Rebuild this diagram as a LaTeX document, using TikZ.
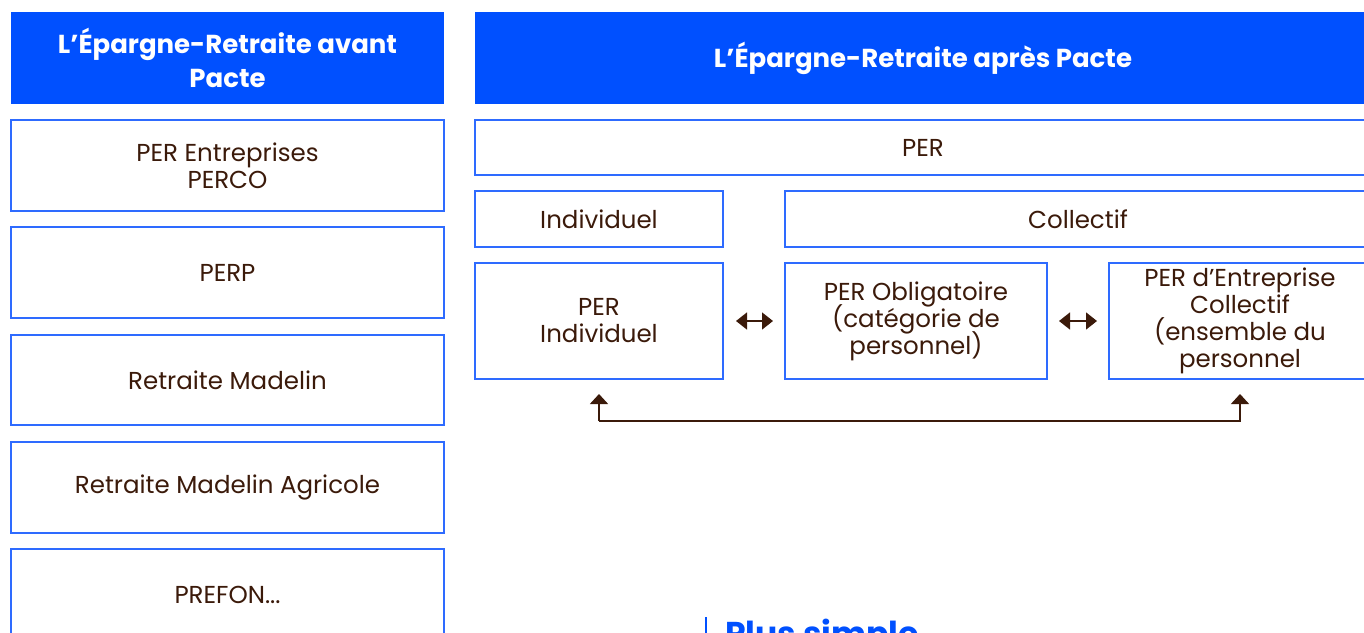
\documentclass[tikz,border=0pt]{standalone}
\usepackage{fontspec}
\setmainfont{Poppins}
\usetikzlibrary{arrows.meta,calc}
\definecolor{hblue}{HTML}{0050FF}
\definecolor{bblue}{HTML}{2E6BFF}
\definecolor{brown}{HTML}{3B1A0A}
\newcommand{\mytight}{\lineskiplimit=-20pt\relax}
\tikzset{
  hdr/.style={fill=hblue, draw=none, text=white, font={\bfseries\fontsize{26}{34}\selectfont\mytight}, align=center, inner sep=0pt, outer sep=0pt, anchor=north west},
  box/.style={draw=bblue, line width=1.3pt, fill=white, text=brown, font={\fontsize{24.5}{27}\selectfont\mytight}, align=center, inner sep=0pt, outer sep=0pt, anchor=north west},
  dbl/.style={{Triangle[length=11pt,width=17pt]}-{Triangle[length=11pt,width=17pt]}, line width=1.5pt, draw=brown},
  conn/.style={-{Triangle[length=10pt,width=18pt]}, line width=1.3pt, draw=brown},
}
\begin{document}
\begin{tikzpicture}[x=1pt,y=-1pt]
\useasboundingbox (0,0) rectangle (1364,632);
% left column
\node[hdr, minimum width=433pt, minimum height=92pt] (hl) at (11,12) {L’Épargne-Retraite avant\\Pacte};
\node[box, minimum width=433pt, minimum height=91pt] (b1) at (11,120) {PER Entreprises\\PERCO};
\node[box, minimum width=433pt, minimum height=91pt] (b2) at (11,227) {PERP};
\node[box, minimum width=433pt, minimum height=90pt] (b3) at (11,335) {Retraite Madelin};
\node[box, minimum width=433pt, minimum height=91pt] (b4) at (11,442) {Retraite Madelin Agricole};
\node[box, minimum width=433pt, minimum height=91pt] (b5) at (11,549) {PREFON...};
% right column
\node[hdr, minimum width=896pt, minimum height=92pt] (hr) at (475,12) {L’Épargne-Retraite après Pacte};
\node[box, minimum width=896pt, minimum height=55pt] (per) at (475,120) {PER};
\node[box, minimum width=248pt, minimum height=56pt] (ind) at (475,191) {Individuel};
\node[box, minimum width=586pt, minimum height=56pt] (col) at (785,191) {Collectif};
\node[box, minimum width=248pt, minimum height=116pt] (pind) at (475,263) {PER\\Individuel};
\node[box, minimum width=262pt, minimum height=116pt] (pobl) at (785,263) {PER Obligatoire\\(catégorie de\\personnel)};
\node[box, minimum width=262pt, minimum height=116pt] (pent) at (1109,263) {PER d’Entreprise\\Collectif\\(ensemble du\\personnel};
% arrows
\draw[dbl] ([xshift=13pt]pind.east) -- ([xshift=-12pt]pobl.west);
\draw[dbl] ([xshift=12pt]pobl.east) -- ([xshift=-12pt]pent.west);
\coordinate (ca) at ($(pind.south)+(0,42)$);
\draw[conn] (ca) -- ([yshift=-15pt]pind.south);
\draw[conn] (ca) -| ([yshift=-15pt]pent.south);
% bottom caption
\coordinate (bar) at (706,617);
\draw[hblue, line width=2pt] (bar) -- ++(0,30);
\node[anchor=base west, text=hblue, font=\bfseries\fontsize{33}{40}\selectfont, inner sep=0pt] (ps) at (725,645) {Plus simple};
\end{tikzpicture}
\end{document}
